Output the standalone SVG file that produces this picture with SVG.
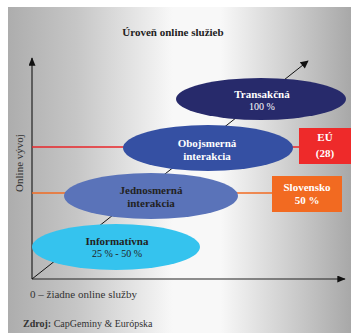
<svg xmlns="http://www.w3.org/2000/svg" width="351" height="333" viewBox="0 0 351 333">
<defs>
<linearGradient id="bg" x1="8" y1="0" x2="351" y2="0" gradientUnits="userSpaceOnUse">
<stop offset="0" stop-color="#adadad"/>
<stop offset="0.2" stop-color="#c6c6c6"/>
<stop offset="0.48" stop-color="#f8f8f8"/>
<stop offset="0.62" stop-color="#f8f8f8"/>
<stop offset="0.85" stop-color="#c8c8c8"/>
<stop offset="1" stop-color="#a8a8a8"/>
</linearGradient>
<marker id="ah" viewBox="0 0 10 10" refX="9" refY="5" markerWidth="10" markerHeight="8" markerUnits="userSpaceOnUse" orient="auto">
<path d="M0,0 L10,5 L0,10 Z" fill="#111"/>
</marker>
<marker id="ahBig" viewBox="0 0 12 10" refX="11" refY="5" markerWidth="13" markerHeight="7" markerUnits="userSpaceOnUse" orient="auto">
<path d="M0,0 L12,5 L0,10 Z" fill="#111"/>
</marker>
</defs>
<style>
text{font-family:"Liberation Serif","Times New Roman",serif;}
.b{font-weight:bold;font-size:11px;text-anchor:middle;}
.n{font-size:10px;text-anchor:middle;}
.w{fill:#ffffff;}
.d{fill:#222222;}
</style>
<rect x="8" y="7" width="343" height="326" fill="url(#bg)"/>
<text x="173" y="36" class="b d">Úroveň online služieb</text>
<g id="connectors">
<line x1="32" y1="279" x2="32" y2="58" stroke="#222" stroke-width="1.2" marker-end="url(#ahBig)"/>
<line x1="32" y1="279" x2="345" y2="279" stroke="#222" stroke-width="1.2" marker-end="url(#ahBig)"/>
<line x1="32" y1="279" x2="308" y2="61" stroke="#111" stroke-width="1" marker-end="url(#ah)"/>
<line x1="32" y1="147" x2="300" y2="147" stroke="#e8262a" stroke-width="1.6"/>
<line x1="32" y1="193" x2="272" y2="193" stroke="#f26b22" stroke-width="1.6"/>
</g>
<text transform="translate(23,163) rotate(-90)" font-size="11" text-anchor="middle" fill="#333">Online vývoj</text>
<g id="transakcna">
<ellipse cx="261" cy="99" rx="85" ry="21" fill="#272a6b"/>
<text x="262" y="98" class="b w">Transakčná</text>
<text x="262" y="110" class="n w">100 %</text>
</g>
<g id="obojsmerna">
<ellipse cx="208" cy="148" rx="85" ry="23" fill="#3550a3"/>
<text x="207" y="147" class="b w">Obojsmerná</text>
<text x="207" y="160" class="b w">interakcia</text>
</g>
<g id="jednosmerna">
<ellipse cx="151" cy="196" rx="87" ry="23" fill="#5a73b9"/>
<text x="151" y="194" class="b d">Jednosmerná</text>
<text x="151" y="207" class="b d">interakcia</text>
</g>
<g id="informativna">
<ellipse cx="116" cy="247" rx="84" ry="23" fill="#35c3ee"/>
<text x="117" y="245" class="b d">Informatívna</text>
<text x="117" y="257" class="n d">25 % - 50 %</text>
</g>
<g id="eu">
<rect x="299" y="128" width="52" height="36" fill="#ee2a2a"/>
<text x="325" y="141" class="b w">EÚ</text>
<text x="325" y="157" class="b w">(28)</text>
</g>
<g id="slovensko">
<rect x="272" y="176" width="70" height="36" fill="#f26a21"/>
<text x="307" y="191" class="b w">Slovensko</text>
<text x="307" y="204" class="b w">50 %</text>
</g>
<text x="30" y="298" font-size="11" fill="#333">0 – žiadne online služby</text>
<text x="23" y="327" font-size="10" fill="#333"><tspan font-weight="bold">Zdroj:</tspan> CapGeminy &amp; Európska</text>
</svg>
